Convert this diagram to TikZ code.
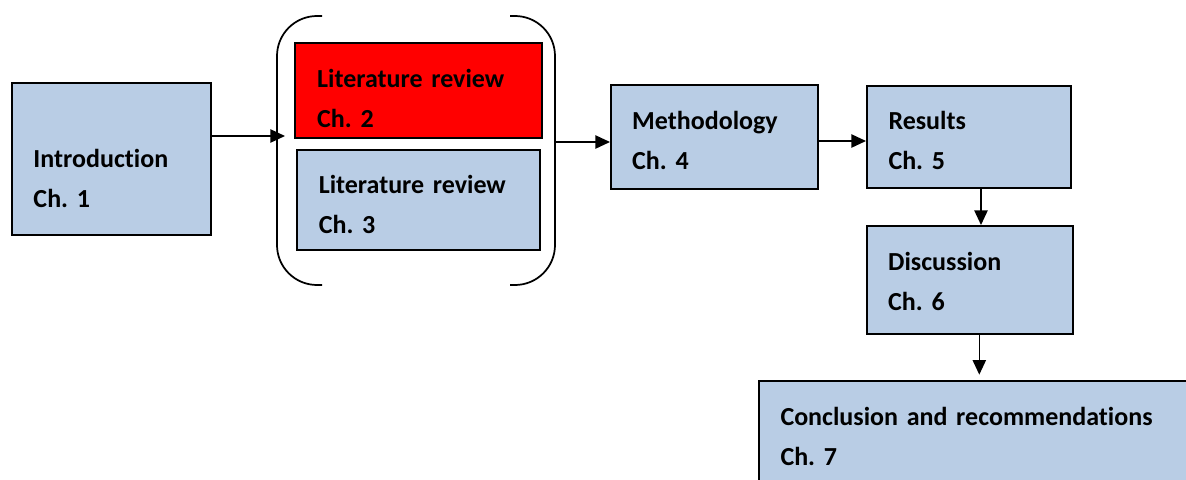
\documentclass[tikz,border=0pt]{standalone}
\usepackage{fontspec}
\setmainfont{Carlito}[Ligatures=NoCommon]
\usetikzlibrary{arrows.meta,fit}
\frenchspacing

\definecolor{chblue}{RGB}{185,205,229}
\definecolor{chred}{RGB}{255,0,0}

\tikzset{every picture/.style={line width=0.75pt}}
\tikzset{
  chbox/.style={draw=black, line width=1.5pt, fill=chblue, inner sep=0pt},
  chtxt/.style={anchor=base west, inner sep=0pt, text width=300pt, align=left,
    font=\bfseries\fontsize{19.5}{30}\selectfont},
  flow/.style={line width=1.1pt, -{Triangle[length=11pt,width=10pt]}},
  brk/.style={line width=1.3pt, rounded corners=30pt},
}

\begin{document}
\begin{tikzpicture}[x=0.75pt,y=0.75pt,yscale=-1,xscale=1]
\useasboundingbox (0,0) rectangle (1186,479);

%Shape: Rectangle [Introduction]
\node [chbox, fit={(12,83) (211,235)}] (intro) {};
%Shape: Rectangle [Literature review, red]
\node [chbox, fill=chred, fit={(295,43) (542,138)}] (litA) {};
%Shape: Rectangle [Literature review]
\node [chbox, fit={(297,150) (539.5,250)}] (litB) {};
%Shape: Rectangle [Methodology]
\node [chbox, fit={(611,85) (817.7,189)}] (meth) {};
%Shape: Rectangle [Results]
\node [chbox, fit={(867,86) (1071,188)}] (res) {};
%Shape: Rectangle [Discussion]
\node [chbox, fit={(867.3,226) (1073.3,334)}] (disc) {};
%Shape: Rectangle [Conclusion, runs off the page]
\node [chbox, fit={(759,381) (1200,495)}] (concl) {};

%Group of the two reviews
\node [fit={(277,16) (555,285)}, inner sep=0pt] (litgrp) {};
%Curve Lines [left bracket]
\draw [brk] (322,16) -| (277,285) -- (322,285) ;
%Curve Lines [right bracket]
\draw [brk] (510,16) -| (555,285) -- (510,285) ;

\coordinate (grpIn) at (285,136);
\coordinate (grpOut) at (litgrp.east |- 0,142);

%Straight Lines
\draw [flow] (intro.east |- grpIn) -- (grpIn) ;
%Straight Lines
\draw [flow] (grpOut) -- (grpOut -| meth.west) ;
%Straight Lines
\draw [flow] ([yshift=3pt]meth.east) -- ([yshift=3pt]res.west) ;
%Straight Lines
\draw [flow] ([xshift=9pt]res.south) -- ([xshift=9pt]res.south |- disc.north) ;
%Straight Lines
\draw [flow, shorten >=4pt] ([xshift=6.75pt]disc.south) -- ([xshift=6.75pt]disc.south |- concl.north) ;

% Text Node
\node [chtxt] (introTxt) at (33,167) {Introduction\\Ch. 1};
% Text Node
\node [chtxt] (litATxt) at (316.7,87.3) {Literature review\\Ch. 2};
% Text Node
\node [chtxt] (litBTxt) at (318.3,193.3) {Literature review\\Ch. 3};
% Text Node
\node [chtxt] (methTxt) at (631.7,129) {Methodology\\Ch. 4};
% Text Node
\node [chtxt] (resTxt) at (888,129) {Results\\Ch. 5};
% Text Node
\node [chtxt] (discTxt) at (887.7,270) {Discussion\\Ch. 6};
% Text Node
\node [chtxt] (conclTxt) at (780,425) {Conclusion and recommendations\\Ch. 7};

\end{tikzpicture}
\end{document}
